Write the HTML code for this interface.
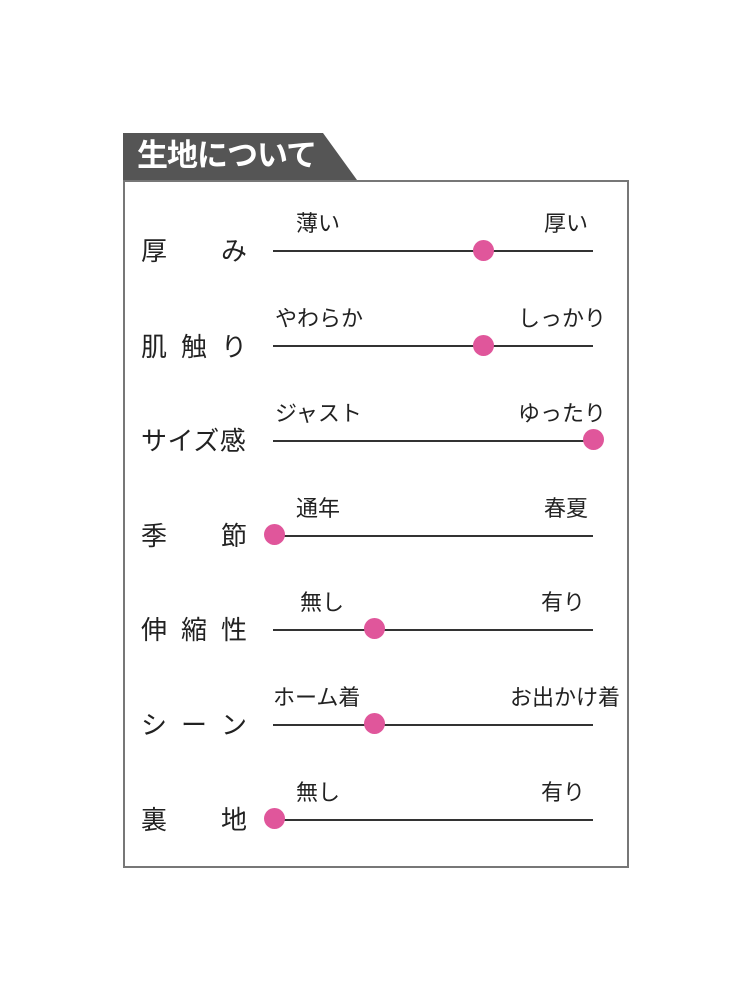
<!DOCTYPE html>
<html><head><meta charset="utf-8"><style>
body{margin:0;width:750px;height:1000px;background:#fff;position:relative;font-family:"Liberation Sans","Noto Sans CJK JP",sans-serif;color:#222;overflow:hidden}
.box{position:absolute;left:123px;top:180px;width:502px;height:684px;border:2px solid #777}
.hdt{position:absolute;left:137px;top:135px;color:#fff;font-size:31px;font-weight:bold;line-height:42px;letter-spacing:-1px}
.lab{position:absolute;left:141px;width:106px;display:flex;justify-content:space-between;font-size:26px;line-height:30px;white-space:nowrap}
.ln{position:absolute;left:273px;width:320px;height:1.5px;background:#333}
.dot{position:absolute;width:21px;height:21px;border-radius:50%;background:#e0569b}
.t{position:absolute;font-size:22px;line-height:26px;white-space:nowrap}
.r{text-align:right}
</style></head><body>
<svg width="240" height="48" style="position:absolute;left:123px;top:133px"><polygon points="0,0 200,0 234,47 0,47" fill="#555"/></svg>
<div class="hdt">生地について</div>
<div class="box"></div>

<div class="lab" style="top:236px"><span>厚</span><span>み</span></div>
<div class="ln" style="top:250px"></div><div class="dot" style="left:473px;top:240px"></div>
<div class="t" style="left:296px;top:211px">薄い</div><div class="t r" style="right:162px;top:211px">厚い</div>

<div class="lab" style="top:332px"><span>肌</span><span>触</span><span>り</span></div>
<div class="ln" style="top:345px"></div><div class="dot" style="left:473px;top:335px"></div>
<div class="t" style="left:275px;top:306px">やわらか</div><div class="t r" style="right:144px;top:306px">しっかり</div>

<div class="lab" style="top:426px;letter-spacing:0.5px"><span>サイズ感</span></div>
<div class="ln" style="top:440px"></div><div class="dot" style="left:583px;top:429px"></div>
<div class="t" style="left:275px;top:401px">ジャスト</div><div class="t r" style="right:144px;top:401px">ゆったり</div>

<div class="lab" style="top:521px"><span>季</span><span>節</span></div>
<div class="ln" style="top:535px"></div><div class="dot" style="left:264px;top:524px"></div>
<div class="t" style="left:296px;top:496px">通年</div><div class="t r" style="right:162px;top:496px">春夏</div>

<div class="lab" style="top:615px"><span>伸</span><span>縮</span><span>性</span></div>
<div class="ln" style="top:629px"></div><div class="dot" style="left:364px;top:618px"></div>
<div class="t" style="left:300px;top:590px">無し</div><div class="t r" style="right:165px;top:590px">有り</div>

<div class="lab" style="top:710px"><span>シ</span><span>ー</span><span>ン</span></div>
<div class="ln" style="top:724px"></div><div class="dot" style="left:364px;top:713px"></div>
<div class="t" style="left:273px;top:685px">ホーム着</div><div class="t r" style="right:130px;top:685px">お出かけ着</div>

<div class="lab" style="top:805px"><span>裏</span><span>地</span></div>
<div class="ln" style="top:819px"></div><div class="dot" style="left:264px;top:808px"></div>
<div class="t" style="left:296px;top:780px">無し</div><div class="t r" style="right:165px;top:780px">有り</div>
</body></html>
